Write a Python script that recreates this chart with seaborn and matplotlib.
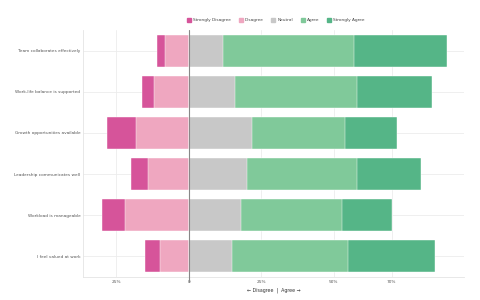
import pandas as pd
import seaborn as sns
import matplotlib.pyplot as plt
from matplotlib.lines import Line2D

# ----- data (percent of responses) -----
statements = ["Team collaborates effectively", "Work-life balance is supported",
              "Growth opportunities available", "Leadership communicates well",
              "Workload is manageable", "I feel valued at work"]
strongly_disagree = [3, 4, 10, 6, 8, 5]
disagree = [8, 12, 18, 14, 22, 10]
neutral = [12, 16, 22, 20, 18, 15]
agree = [45, 42, 32, 38, 35, 40]
strongly_agree = [32, 26, 18, 22, 17, 30]

categories = ["Strongly Disagree", "Disagree", "Neutral", "Agree", "Strongly Agree"]
colors = ["#d6549a", "#efa7c0", "#c8c8c8", "#80c99a", "#55b587"]
tick_vals = [-25, 0, 25, 50, 70]
tick_labels = ["25%", "0", "25%", "50%", "70%"]

df = pd.DataFrame({"statement": statements, "sd": strongly_disagree, "d": disagree,
                   "n": neutral, "a": agree, "sa": strongly_agree})
# cumulative ends, drawn back to front so the segments stack
df["left_sd"] = -(df["sd"] + df["d"])
df["left_d"] = -df["d"]
df["right_sa"] = df["n"] + df["a"] + df["sa"]
df["right_a"] = df["n"] + df["a"]
df["right_n"] = df["n"]

sns.set_style("white")
plt.rcParams["font.family"] = ["DejaVu Sans"]
fs = 3.1

fig = plt.figure(figsize=(4.8, 3.0), dpi=100)
ax = fig.add_axes([0.173, 0.077, 0.794, 0.823])

layers = [("left_sd", colors[0]), ("left_d", colors[1]),
          ("right_sa", colors[4]), ("right_a", colors[3]), ("right_n", colors[2])]
for col, c in layers:
    sns.barplot(data=df, x=col, y="statement", orient="h", color=c, width=0.78,
                saturation=1, edgecolor="white", linewidth=0.3, ax=ax, zorder=2)

ax.set_xlim(-36.4, 95)
ax.set_ylim(5.5, -0.5)
ax.set_xticks(tick_vals)
ax.set_xticklabels(tick_labels)
ax.grid(True, axis="both", color="#ececec", linewidth=0.6, zorder=0)
ax.set_axisbelow(True)
ax.axvline(0, ymin=-0.02, ymax=1, color="#888888", linewidth=0.8, zorder=3, clip_on=False)
ax.tick_params(axis="both", length=0, labelsize=fs, colors="#555555", pad=2)
for s in ["top", "right"]:
    ax.spines[s].set_visible(False)
for s in ["left", "bottom"]:
    ax.spines[s].set_color("#e4e4e4")
    ax.spines[s].set_linewidth(0.6)
ax.set_ylabel("")
ax.set_xlabel("\u2190 Disagree  |  Agree \u2192", fontsize=fs + 0.3, color="#333333", labelpad=3)

handles = [Line2D([0], [0], marker="s", linestyle="", markersize=3.2,
                  markerfacecolor=c, markeredgecolor=c) for c in colors]
fig.legend(handles, categories, loc="center", bbox_to_anchor=(0.575, 0.933), ncol=5,
           frameon=False, fontsize=fs, handlelength=0.8, handletextpad=0.6,
           columnspacing=1.8, labelcolor="#444444")

fig.savefig("out.png", dpi=100)
